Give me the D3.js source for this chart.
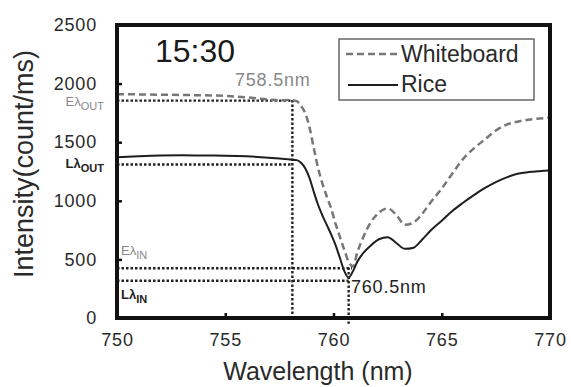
<!DOCTYPE html>
<html>
<head>
<meta charset="utf-8">
<script src="https://cdn.jsdelivr.net/npm/d3@7"></script>
<style>
  body { margin: 0; background: #fff; }
  svg text { font-family: "Liberation Sans", Arial, sans-serif; }
</style>
</head>
<body>
<svg id="chart" width="571" height="387"></svg>
<script>
// wavelength grid (nm)
const wavelength = [750, 751, 752, 753, 754, 755, 756, 757, 757.5, 758, 758.3, 758.5, 758.7, 758.9, 759.1, 759.3, 759.5, 759.7, 759.9, 760.1, 760.3, 760.5, 760.7, 760.9, 761.1, 761.4, 761.7, 762.1, 762.5, 762.9, 763.3, 763.7, 764.1, 764.5, 765, 765.5, 766, 766.5, 767, 767.5, 768, 768.5, 769, 769.5, 770];
const whiteboard = [1910, 1908, 1905, 1903, 1900, 1895, 1882, 1865, 1858, 1860, 1850, 1810, 1745, 1620, 1440, 1270, 1140, 1030, 930, 800, 690, 580, 480, 440, 560, 700, 810, 900, 935, 880, 795, 815, 890, 990, 1105, 1235, 1360, 1450, 1525, 1600, 1650, 1675, 1692, 1702, 1710];
const rice = [1372, 1380, 1386, 1388, 1386, 1385, 1380, 1368, 1360, 1352, 1347, 1325, 1275, 1190, 1070, 960, 870, 790, 710, 620, 510, 400, 345, 400, 480, 560, 615, 672, 690, 640, 590, 600, 670, 748, 830, 915, 985, 1050, 1110, 1160, 1200, 1230, 1245, 1253, 1258];

const xTicks = [750, 755, 760, 765, 770];
const yTicks = [0, 500, 1000, 1500, 2000, 2500];

// reference (dotted) lines
const peakWavelength = [758.1, 760.7];
const levelNames = ['E_out', 'L_out', 'E_in', 'L_in'];
const levelValues = [1855, 1310, 425, 318];
const levelEnds = [758.1, 758.1, 760.85, 760.7];

const svg = d3.select('#chart');
const plotLeft = 117, plotRight = 550, plotTop = 25, plotBottom = 318;

const x = d3.scaleLinear().domain([750, 770]).range([plotLeft, plotRight]);
const y = d3.scaleLinear().domain([0, 2500]).range([plotBottom, plotTop]);

// axes (inward ticks)
const xAxis = svg.append('g')
  .attr('transform', 'translate(0,' + plotBottom + ')')
  .call(d3.axisBottom(x).tickValues(xTicks).tickSize(-5).tickPadding(15).tickFormat(d3.format('d')));
const yAxis = svg.append('g')
  .attr('transform', 'translate(' + plotLeft + ',0)')
  .call(d3.axisLeft(y).tickValues(yTicks).tickSize(-5).tickPadding(20).tickFormat(d3.format('d')));

[xAxis, yAxis].forEach(function (g) {
  g.select('.domain').remove();
  g.selectAll('line').attr('stroke', '#111').attr('stroke-width', 2.5);
  g.selectAll('text')
    .attr('fill', '#2a2a2a')
    .style('font-size', '18px')
    .style('letter-spacing', '0.8px');
});

// dotted reference lines
const dotted = svg.append('g')
  .attr('stroke', '#222')
  .attr('stroke-width', 2.4)
  .attr('stroke-dasharray', '2.5,2')
  .attr('fill', 'none');

levelValues.forEach(function (v, i) {
  dotted.append('line')
    .attr('x1', x(750)).attr('x2', x(levelEnds[i]))
    .attr('y1', y(v)).attr('y2', y(v));
});
dotted.append('line')
  .attr('x1', x(peakWavelength[0])).attr('x2', x(peakWavelength[0]))
  .attr('y1', y(1860)).attr('y2', y(0));
dotted.append('line')
  .attr('x1', x(peakWavelength[1])).attr('x2', x(peakWavelength[1]))
  .attr('y1', y(430)).attr('y2', y(-50));

// curves
const specLine = d3.line()
  .x(function (d, i) { return x(wavelength[i]); })
  .y(function (d) { return y(d); })
  .curve(d3.curveMonotoneX);

svg.append('path')
  .datum(whiteboard)
  .attr('d', specLine)
  .attr('fill', 'none')
  .attr('stroke', '#777')
  .attr('stroke-width', 2.5)
  .attr('stroke-dasharray', '7,4');

svg.append('path')
  .datum(rice)
  .attr('d', specLine)
  .attr('fill', 'none')
  .attr('stroke', '#1e1e1e')
  .attr('stroke-width', 2);

// frame
svg.append('rect')
  .attr('x', plotLeft).attr('y', plotTop)
  .attr('width', plotRight - plotLeft).attr('height', plotBottom - plotTop)
  .attr('fill', 'none')
  .attr('stroke', '#111')
  .attr('stroke-width', 4);

// axis titles
svg.append('text')
  .attr('x', 318).attr('y', 380)
  .attr('text-anchor', 'middle')
  .attr('fill', '#2a2a2a')
  .style('font-size', '25px')
  .text('Wavelength (nm)');

svg.append('text')
  .attr('transform', 'translate(33,164) rotate(-90)')
  .attr('text-anchor', 'middle')
  .attr('fill', '#2a2a2a')
  .style('font-size', '27px')
  .text('Intensity(count/ms)');

// time stamp
svg.append('text')
  .attr('x', 155).attr('y', 62)
  .attr('fill', '#1a1a1a')
  .style('font-size', '32px')
  .text('15:30');

// peak labels
svg.append('text')
  .attr('x', 235).attr('y', 86)
  .attr('fill', '#888')
  .style('font-size', '18px')
  .style('letter-spacing', '0.8px')
  .text('758.5nm');

svg.append('text')
  .attr('x', 351).attr('y', 293)
  .attr('fill', '#222')
  .style('font-size', '18px')
  .style('letter-spacing', '0.8px')
  .text('760.5nm');

// level labels (E/L lambda in/out)
function levelLabel(px, py, main, sub, color, weight, anchor) {
  const t = svg.append('text')
    .attr('x', px).attr('y', py)
    .attr('fill', color)
    .attr('text-anchor', anchor)
    .style('font-weight', weight)
    .style('font-size', '13px');
  t.append('tspan').text(main);
  t.append('tspan').attr('dy', 4).style('font-size', '11px').text(sub);
}
levelLabel(104, y(levelValues[0]) + 5, 'E\u03bb', 'OUT', '#888', 'normal', 'end');
levelLabel(104, y(levelValues[1]) + 4, 'L\u03bb', 'OUT', '#222', 'bold', 'end');
levelLabel(121, 255, 'E\u03bb', 'IN', '#888', 'normal', 'start');
levelLabel(121, 299, 'L\u03bb', 'IN', '#222', 'bold', 'start');

// legend
const legend = svg.append('g');
legend.append('rect')
  .attr('x', 339).attr('y', 39)
  .attr('width', 195).attr('height', 61)
  .attr('fill', '#fff')
  .attr('stroke', '#666')
  .attr('stroke-width', 1.5);
legend.append('line')
  .attr('x1', 346).attr('x2', 400).attr('y1', 54).attr('y2', 54)
  .attr('stroke', '#777').attr('stroke-width', 2.5).attr('stroke-dasharray', '7,4');
legend.append('line')
  .attr('x1', 348).attr('x2', 398).attr('y1', 85).attr('y2', 85)
  .attr('stroke', '#1e1e1e').attr('stroke-width', 2);
legend.append('text')
  .attr('x', 401).attr('y', 62)
  .attr('fill', '#2a2a2a')
  .style('font-size', '23px')
  .text('Whiteboard');
legend.append('text')
  .attr('x', 401).attr('y', 92)
  .attr('fill', '#2a2a2a')
  .style('font-size', '23px')
  .text('Rice');
</script>
</body>
</html>
